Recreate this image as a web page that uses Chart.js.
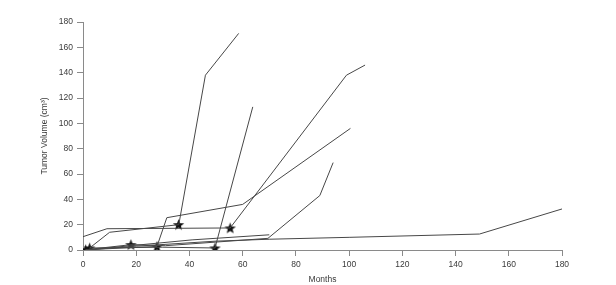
<!DOCTYPE html>
<html>
<head>
<meta charset="utf-8">
<script src="https://cdn.jsdelivr.net/npm/chart.js@4/dist/chart.umd.min.js"></script>
<style>
  html,body{margin:0;padding:0;background:#fff;}
  #wrap{width:616px;height:285px;position:relative;}
</style>
</head>
<body>
<div id="wrap"><canvas id="c" width="616" height="285"></canvas></div>
<script>
// ---- data (months, tumor volume cm^3) ----
const xTicks = [0, 20, 40, 60, 80, 100, 120, 140, 160, 180];
const yTicks = [0, 20, 40, 60, 80, 100, 120, 140, 160, 180];

const aMonths = [2.5, 10, 36, 46, 58.5];
const aVolume = [1.6, 14, 20, 138, 171];

const bMonths = [0, 9, 55.3, 99, 106];
const bVolume = [10.5, 16.8, 17.4, 138, 146];

const cMonths = [1, 27.8, 31.5, 60, 100.5];
const cVolume = [0.2, 2.8, 25.5, 36, 96];

const dMonths = [2.5, 30, 49.6, 63.8];
const dVolume = [1.6, 2.2, 1.6, 113];

const eMonths = [1, 18, 31, 69.5, 89, 94];
const eVolume = [0.2, 4.2, 3.4, 9.2, 43, 69];

const fMonths = [1, 20, 50, 70, 100, 149, 180];
const fVolume = [0, 3, 7, 8.5, 10, 12.6, 32.4];

const gMonths = [1, 41, 70];
const gVolume = [0, 8, 12];

const starMonths = [1, 2.5, 18, 27.8, 35.9, 49.6, 55.3];
const starVolume = [0.2, 1.6, 4.2, 2.8, 20, 1.6, 17.4];

// ---- helpers ----
function pts(xs, ys){ return xs.map((x,i)=>({x:x, y:ys[i]})); }

function makeStar(){
  const s = 13, c = document.createElement('canvas');
  c.width = s; c.height = s;
  const g = c.getContext('2d');
  const cx = s/2, cy = s/2 + 0.5, R = 6, r = 2.5;
  g.beginPath();
  for (let i = 0; i < 10; i++){
    const ang = -Math.PI/2 + i*Math.PI/5;
    const rad = (i % 2 === 0) ? R : r;
    const px = cx + rad*Math.cos(ang), py = cy + rad*Math.sin(ang);
    if (i === 0) g.moveTo(px, py); else g.lineTo(px, py);
  }
  g.closePath();
  g.fillStyle = '#111';
  g.fill();
  return c;
}
const starImg = makeStar();

const lineStyle = {
  showLine: true,
  borderColor: '#474747',
  borderWidth: 1,
  pointRadius: 0,
  fill: false,
  tension: 0
};

const series = [
  [aMonths, aVolume], [bMonths, bVolume], [cMonths, cVolume], [dMonths, dVolume],
  [eMonths, eVolume], [fMonths, fVolume], [gMonths, gVolume]
];

const datasets = series.map(([xs, ys]) => Object.assign({ data: pts(xs, ys) }, lineStyle));
datasets.push({
  data: pts(starMonths, starVolume),
  showLine: false,
  pointStyle: starImg,
  pointRadius: 6,
  borderWidth: 0
});

const tickFont = { family: 'Liberation Sans, Arial, sans-serif', size: 8.5 };
const axisGray = '#8a8a8a';

new Chart(document.getElementById('c'), {
  type: 'scatter',
  data: { datasets: datasets },
  options: {
    responsive: false,
    animation: false,
    events: [],
    layout: { padding: { top: 22, right: 54, left: 0, bottom: 0 } },
    plugins: { legend: { display: false }, tooltip: { enabled: false } },
    scales: {
      x: {
        type: 'linear',
        min: xTicks[0], max: xTicks[xTicks.length - 1],
        afterBuildTicks: s => { s.ticks = xTicks.map(v => ({ value: v })); },
        afterFit: s => { s.height = 35; },
        ticks: { color: '#3a3a3a', font: tickFont, padding: 4, maxRotation: 0 },
        grid: { drawOnChartArea: false, drawTicks: true, tickLength: 6, color: axisGray, lineWidth: 1 },
        border: { color: axisGray, width: 1 },
        title: { display: true, text: 'Months', color: '#3a3a3a', font: tickFont, padding: { top: 0, bottom: 0 } }
      },
      y: {
        type: 'linear',
        min: yTicks[0], max: yTicks[yTicks.length - 1],
        afterBuildTicks: s => { s.ticks = yTicks.map(v => ({ value: v })); },
        afterFit: s => { s.width = 83; },
        ticks: { color: '#3a3a3a', font: tickFont, padding: 4 },
        grid: { drawOnChartArea: false, drawTicks: true, tickLength: 6, color: axisGray, lineWidth: 1 },
        border: { color: axisGray, width: 1 },
        title: { display: true, text: 'Tumor Volume (cm³)', color: '#3a3a3a', font: tickFont, padding: { top: 40, bottom: 0 } }
      }
    }
  }
});
</script>
</body>
</html>
